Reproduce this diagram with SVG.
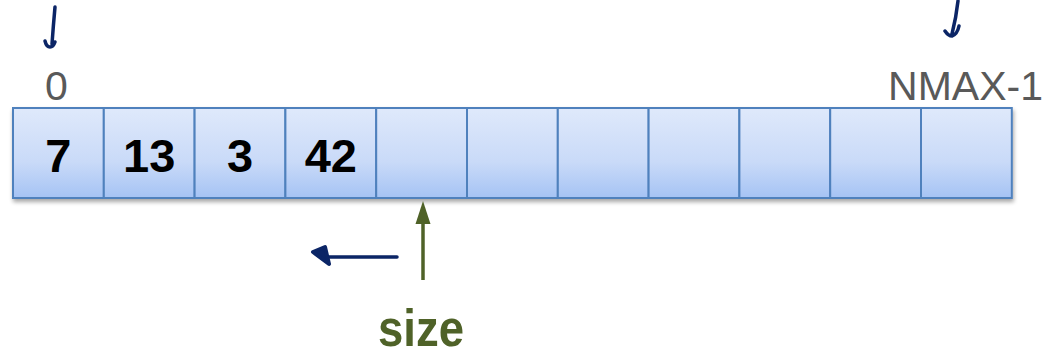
<svg xmlns="http://www.w3.org/2000/svg" width="1048" height="361" viewBox="0 0 1048 361">
  <defs>
    <linearGradient id="cellFill" x1="0" y1="0" x2="0" y2="1">
      <stop offset="0" stop-color="#dfe9fb"/>
      <stop offset="0.6" stop-color="#c9daf8"/>
      <stop offset="1" stop-color="#a5c3f4"/>
    </linearGradient>
    <filter id="shadow" x="-5%" y="-20%" width="110%" height="150%">
      <feGaussianBlur in="SourceAlpha" stdDeviation="2"/>
      <feOffset dx="1" dy="3"/>
      <feComponentTransfer><feFuncA type="linear" slope="0.35"/></feComponentTransfer>
      <feMerge><feMergeNode/><feMergeNode in="SourceGraphic"/></feMerge>
    </filter>
  </defs>
  <style>
    .cell { fill: url(#cellFill); stroke: #4f81bd; stroke-width: 2; }
    .val { font-family: "Liberation Sans", Arial, sans-serif; font-weight: bold; font-size: 47px; fill: #000; text-anchor: middle; }
    .idx { font-family: "Liberation Sans", Arial, sans-serif; font-size: 41px; fill: #595959; }
    .ink { fill: none; stroke: #0b2566; stroke-width: 3.5; stroke-linecap: round; stroke-linejoin: round; }
    .size { font-family: "Liberation Sans", Arial, sans-serif; font-weight: bold; font-size: 52px; fill: #4f6228; text-anchor: middle; }
  </style>

  <!-- array cells -->
  <g id="array" filter="url(#shadow)">
    <rect class="cell" x="13" y="108" width="90.8" height="90"/>
    <rect class="cell" x="103.8" y="108" width="90.8" height="90"/>
    <rect class="cell" x="194.6" y="108" width="90.8" height="90"/>
    <rect class="cell" x="285.4" y="108" width="90.8" height="90"/>
    <rect class="cell" x="376.2" y="108" width="90.8" height="90"/>
    <rect class="cell" x="467" y="108" width="90.8" height="90"/>
    <rect class="cell" x="557.8" y="108" width="90.8" height="90"/>
    <rect class="cell" x="648.6" y="108" width="90.8" height="90"/>
    <rect class="cell" x="739.4" y="108" width="90.8" height="90"/>
    <rect class="cell" x="830.2" y="108" width="90.8" height="90"/>
    <rect class="cell" x="921" y="108" width="90.8" height="90"/>
  </g>

  <g id="values">
    <text class="val" x="58.4" y="172">7</text>
    <text class="val" x="149.2" y="172">13</text>
    <text class="val" x="240" y="172">3</text>
    <text class="val" x="330.8" y="172">42</text>
  </g>

  <g id="indices">
    <text class="idx" x="45" y="100">0</text>
    <text class="idx" x="1043" y="100" text-anchor="end">NMAX-1</text>
  </g>

  <!-- hand-drawn pointers -->
  <g id="connectors">
    <path class="ink" d="M55 7 C54 18 53 30 52 44 M45 41 C46 45 48 47 50 47 C52 47 54 45 55 42"/>
    <path class="ink" d="M958 1 C957 10 955 22 952 34 M945 31 C947 34 950 36 952 36 C955 35 958 31 959 26"/>
    <path class="ink" d="M397 257 L329 257"/>
    <path d="M313 252 L325 247 L329 264 Z" fill="#0b2566" stroke="#0b2566" stroke-width="4" stroke-linejoin="round"/>
    <line x1="423" y1="280" x2="423" y2="222" stroke="#4f6228" stroke-width="3.5"/>
    <path d="M423 201 L430.5 224 L415.5 224 Z" fill="#4f6228"/>
  </g>

  <g id="size-label">
    <text class="size" x="421" y="346" textLength="86" lengthAdjust="spacingAndGlyphs">size</text>
  </g>
</svg>
